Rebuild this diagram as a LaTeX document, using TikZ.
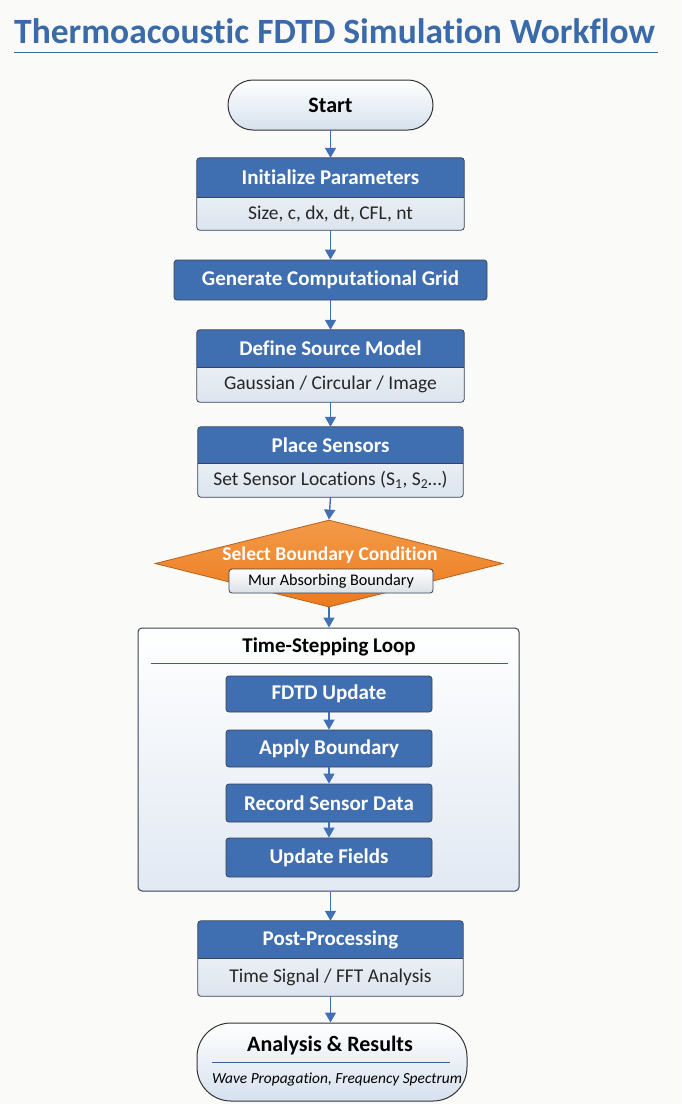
\documentclass[tikz,border=0pt]{standalone}
\usepackage{fontspec}
\setmainfont{Carlito}[Ligatures=CommonOff]
\usetikzlibrary{arrows.meta,shapes.geometric,backgrounds}

\definecolor{pagebg}{HTML}{FAFAF8}
\definecolor{titleblue}{HTML}{3A6AA8}
\definecolor{hdrblue}{HTML}{3F6EB1}
\definecolor{flowblue}{HTML}{4270B4}
\definecolor{cardline}{HTML}{3A4456}
\definecolor{cardtop}{HTML}{F8FAFC}
\definecolor{cardbot}{HTML}{DCE4EE}
\definecolor{orangetop}{HTML}{F39A48}
\definecolor{orangebot}{HTML}{EC7A1E}
\definecolor{orangeline}{HTML}{B8621C}
\definecolor{rulecol}{HTML}{3B5E93}
\definecolor{termbot}{HTML}{D6E1EE}
\definecolor{loopbot}{HTML}{E2E9F3}
\definecolor{murbot}{HTML}{DDE1E6}

\tikzset{
  flow/.style={draw=flowblue, line width=1.4pt, -{Triangle[width=11pt,length=10pt]}},
  hdrtext/.style={text=white, font=\bfseries\fontsize{21}{24}\selectfont, inner sep=0pt},
  subtext/.style={text=black!85, font=\fontsize{19.5}{22}\selectfont, inner sep=0pt},
  bluebox/.style={fill=hdrblue, draw=cardline, line width=0.8pt, rounded corners=3pt,
    text=white, font=\bfseries\fontsize{21}{24}\selectfont, inner sep=0pt},
  terminal/.style={draw=black!80, line width=1pt, top color=white, bottom color=termbot, inner sep=0pt},
}

% Header/sub-row card frame, drawn behind the two text nodes
\newcommand\cardframe[2]{%
  \begin{scope}[on background layer]
    \shade[top color=cardtop, bottom color=cardbot, rounded corners=3pt]
      (#1.north west) rectangle (#2.south east);
    \fill[hdrblue, rounded corners=3pt] (#1.north west) rectangle (#1.south east);
    \fill[hdrblue] (#1.west) rectangle (#1.south east);
    \draw[cardline, line width=0.8pt, rounded corners=3pt] (#1.north west) rectangle (#2.south east);
    \draw[cardline, line width=0.8pt] (#1.south west) -- (#1.south east);
  \end{scope}}

\begin{document}
\begin{tikzpicture}[x=1pt, y=-1pt]
  \begin{scope}[on background layer]
    \fill[pagebg] (0,0) rectangle (681,1104);
  \end{scope}
  \useasboundingbox (0,0) rectangle (681,1104);

  % Title
  \node[anchor=west, text=titleblue, font=\bfseries\fontsize{35.5}{40}\selectfont, inner sep=0pt]
    (title) at (14,31.5) {Thermoacoustic FDTD Simulation Workflow};
  \draw[titleblue, line width=1pt] (14,52) -- (658,52);

  % Start
  \node[terminal, rounded corners=25pt, minimum width=205pt, minimum height=50pt,
        font=\bfseries\fontsize{22}{24}\selectfont] (start) at (330.5,105) {Start};

  % Initialize parameters
  \node[hdrtext, minimum width=267pt, minimum height=39pt] (init) at (330.5,177.5) {Initialize Parameters};
  \node[subtext, minimum width=267pt, minimum height=33pt] (initsub) at (330.5,213.5) {Size, c, dx, dt, CFL, nt};
  \cardframe{init}{initsub}

  % Grid
  \node[bluebox, minimum width=313pt, minimum height=40pt] (grid) at (330.5,280) {Generate Computational Grid};

  % Source model
  \node[hdrtext, minimum width=267pt, minimum height=37pt] (src) at (330.5,348.5) {Define Source Model};
  \node[subtext, minimum width=267pt, minimum height=35pt] (srcsub) at (330.5,384.5) {Gaussian / Circular / Image};
  \cardframe{src}{srcsub}

  % Sensors
  \node[hdrtext, minimum width=265pt, minimum height=36pt] (sens) at (330.5,445) {Place Sensors};
  \node[subtext, minimum width=265pt, minimum height=34pt] (senssub) at (330.5,480)
    {Set Sensor Locations (S\textsubscript{1}, S\textsubscript{2}…)};
  \cardframe{sens}{senssub}

  % Boundary condition decision
  \node[diamond, draw=orangeline, line width=0.8pt, top color=orangetop, bottom color=orangebot,
        minimum width=348pt, minimum height=87pt, aspect=4, inner sep=0pt] (bc) at (329,563.5) {};
  \node[text=white, font=\bfseries\fontsize{19.5}{22}\selectfont, inner sep=0pt] (bctitle) at (330,555)
    {Select Boundary Condition};
  \node[draw=cardline, line width=0.8pt, rounded corners=3pt, top color=white, bottom color=murbot,
        minimum width=204pt, minimum height=24pt, inner sep=0pt,
        font=\fontsize{16.2}{18}\selectfont] (mur) at (331,581) {Mur Absorbing Boundary};

  % Time-stepping loop container
  \node[draw=cardline, line width=1pt, rounded corners=4pt, top color=white, bottom color=loopbot,
        minimum width=381pt, minimum height=263pt, inner sep=0pt] (loop) at (328.5,759.5) {};
  \node[font=\bfseries\fontsize{21}{24}\selectfont, inner sep=0pt] (looptitle) at (329,647) {Time-Stepping Loop};
  \draw[rulecol, line width=0.9pt] ([xshift=13pt]loop.west |- 0,663) -- ([xshift=-12pt]loop.east |- 0,663);

  \node[bluebox, minimum width=206pt, minimum height=36pt] (fdtd)   at (329,694)   {FDTD Update};
  \node[bluebox, minimum width=206pt, minimum height=37pt] (apply)  at (329,748.5) {Apply Boundary};
  \node[bluebox, minimum width=206pt, minimum height=38pt] (record) at (329,803)   {Record Sensor Data};
  \node[bluebox, minimum width=206pt, minimum height=39pt] (upd)    at (329,857.5) {Update Fields};

  % Post-processing
  \node[hdrtext, minimum width=265pt, minimum height=37pt] (post) at (330.5,939.5) {Post-Processing};
  \node[subtext, minimum width=265pt, minimum height=38pt] (postsub) at (330.5,977) {Time Signal / FFT Analysis};
  \cardframe{post}{postsub}

  % Results
  \node[terminal, rounded corners=34pt, minimum width=270pt, minimum height=78pt] (res) at (332,1062) {};
  \node[font=\bfseries\fontsize{22}{24}\selectfont, inner sep=0pt] (restitle) at (330,1045) {Analysis \& Results};
  \draw[rulecol, line width=0.9pt] ([xshift=15pt]res.west |- 0,1062) -- ([xshift=-18pt]res.east |- 0,1062);
  \node[font=\itshape\fontsize{15.4}{17}\selectfont, inner sep=0pt] (resnote) at (337,1080)
    {Wave Propagation, Frequency Spectrum};

  % Connectors
  \draw[flow] (start) -- (init);
  \draw[flow] (initsub) -- (grid);
  \draw[flow] (grid) -- (src);
  \draw[flow] (srcsub) -- (sens);
  \draw[flow] (senssub.south) -- (bc.north);
  \draw[flow] (bc.south) -- (loop.north -| bc.south);
  \draw[flow] (fdtd) -- (apply);
  \draw[flow] (apply) -- (record);
  \draw[flow] (record) -- (upd);
  \draw[flow] (loop.south -| post.north) -- (post);
  \draw[flow] (postsub.south) -- (res.north -| postsub.south);
\end{tikzpicture}
\end{document}
